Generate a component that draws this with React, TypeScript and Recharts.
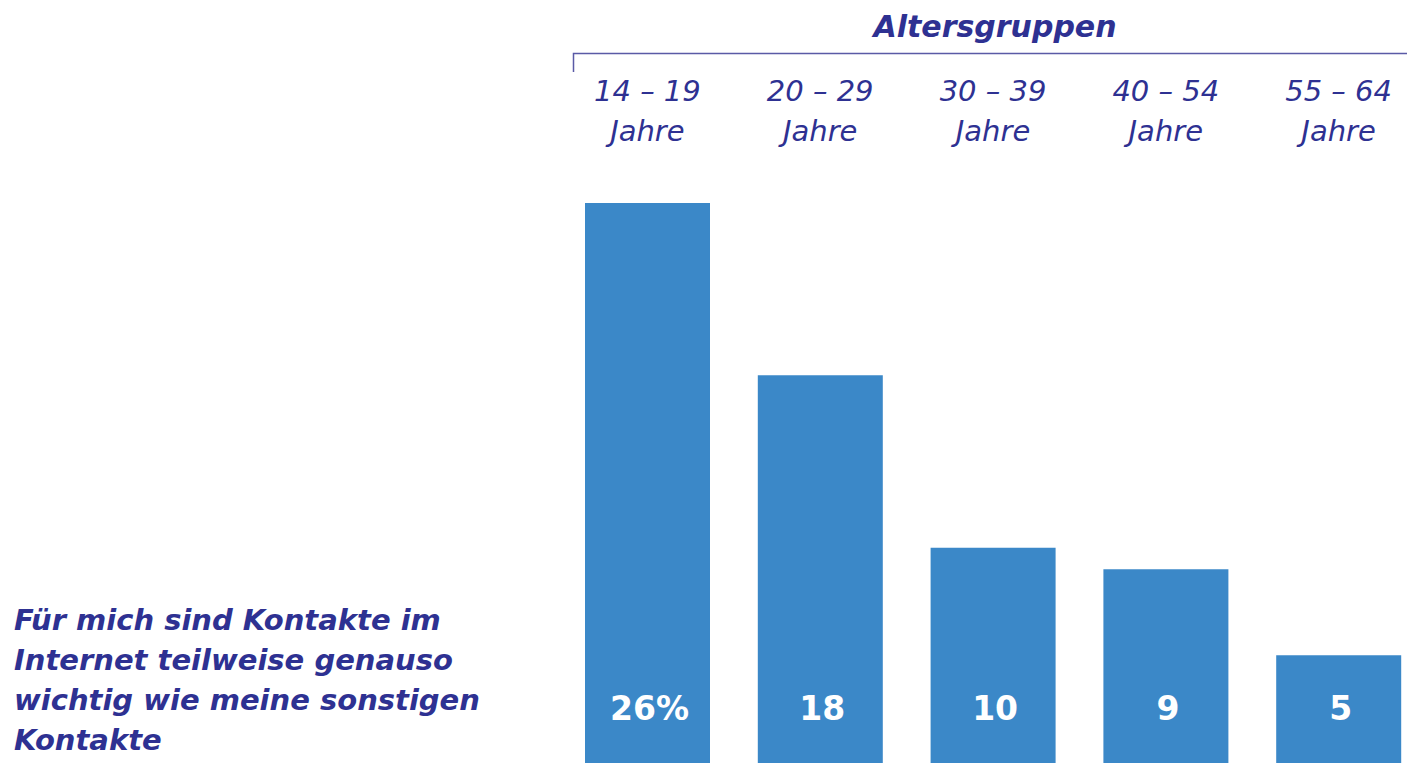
import { BarChart, Bar, XAxis, YAxis, LabelList } from 'recharts';

const ageGroups = ['14 – 19', '20 – 29', '30 – 39', '40 – 54', '55 – 64'];
const shares = [26, 18, 10, 9, 5];
const unitLabel = 'Jahre';
const title = 'Altersgruppen';
const statementLines = [
  'Für mich sind Kontakte im',
  'Internet teilweise genauso',
  'wichtig wie meine sonstigen',
  'Kontakte',
];

const data = ageGroups.map((group, i) => ({ group, value: shares[i] }));

const ink = '#2e3192';
const barBlue = '#3b88c8';
const font = '"DejaVu Sans", sans-serif';

function GroupTick(props: any) {
  const { x, y, payload } = props;
  return (
    <g>
      <text x={x} y={y - 53} textAnchor="middle" fill={ink} fontFamily={font} fontStyle="italic" fontSize={29}>
        {payload.value}
      </text>
      <text x={x} y={y - 13} textAnchor="middle" fill={ink} fontFamily={font} fontStyle="italic" fontSize={29}>
        {unitLabel}
      </text>
    </g>
  );
}

function ValueLabel(props: any) {
  const { x, y, width, height, value, index } = props;
  return (
    <text
      x={x + width / 2 + 2}
      y={y + height - 43}
      textAnchor="middle"
      fill="#ffffff"
      fontFamily={font}
      fontWeight="bold"
      fontSize={33}
    >
      {index === 0 ? `${value}%` : value}
    </text>
  );
}

export default function App() {
  return (
    <div style={{ position: 'absolute', left: 0, top: 0, width: 1407, height: 763, overflow: 'hidden', background: '#fff' }}>
      <BarChart width={1425} height={763} data={data} margin={{ top: 0, right: 0, left: 561, bottom: 0 }} barSize={125}>
        <XAxis
          dataKey="group"
          orientation="top"
          height={160}
          axisLine={false}
          tickLine={false}
          tickMargin={0}
          interval={0}
          tick={<GroupTick />}
        />
        <YAxis hide domain={[0, 28]} width={0} />
        <Bar dataKey="value" fill={barBlue} isAnimationActive={false}>
          <LabelList dataKey="value" content={<ValueLabel />} />
        </Bar>
      </BarChart>
      <svg style={{ position: 'absolute', left: 0, top: 0 }} width={1407} height={763} pointerEvents="none">
        <text x={995} y={37} textAnchor="middle" fill={ink} fontFamily={font} fontStyle="italic" fontWeight="bold" fontSize={30}>
          {title}
        </text>
        <polyline points="573.5,72 573.5,53.5 1407,53.5" fill="none" stroke="#5a5aa6" strokeWidth={1.5} />
        {statementLines.map((line, i) => (
          <text
            key={line}
            x={14}
            y={630 + i * 40}
            fill={ink}
            fontFamily={font}
            fontStyle="italic"
            fontWeight="bold"
            fontSize={29}
          >
            {line}
          </text>
        ))}
      </svg>
    </div>
  );
}
